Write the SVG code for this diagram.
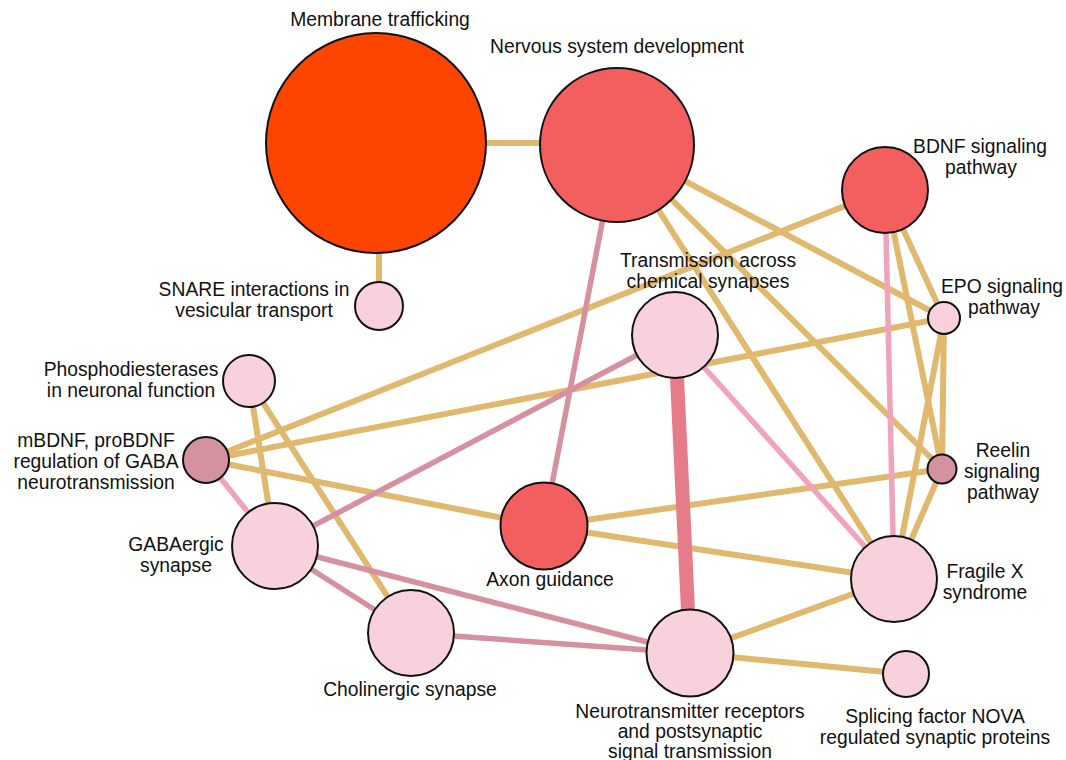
<svg xmlns="http://www.w3.org/2000/svg" width="1066" height="760" viewBox="0 0 1066 760">
<style>
.t{stroke:#E0B86E;stroke-width:6;fill:none}
.p{stroke:#F1A3BA;stroke-width:5.5;fill:none}
.m{stroke:#D5919F;stroke-width:5.5;fill:none}
.k{stroke:#E67C89;stroke-width:14;fill:none}
circle{stroke:#111;stroke-width:2}
.lp{fill:#F8D1DC}
.rd{fill:#F35E5E}
.mv{fill:#D4919F}
.or{fill:#FE4401}
text{font-family:"Liberation Sans",Arial,sans-serif;font-size:19.3px;fill:#111}
.c{text-anchor:middle}
</style>
<rect width="1066" height="760" fill="#fff"/>
<g id="connectors">
<line class="t" x1="376" y1="143" x2="617" y2="143"/>
<line class="t" x1="379" y1="143" x2="379" y2="306"/>
<line class="t" x1="617" y1="145" x2="944" y2="318"/>
<line class="t" x1="617" y1="145" x2="942" y2="469"/>
<line class="t" x1="617" y1="145" x2="894" y2="579"/>
<line class="t" x1="885" y1="190" x2="206" y2="460"/>
<line class="t" x1="885" y1="190" x2="944" y2="318"/>
<line class="t" x1="885" y1="190" x2="942" y2="469"/>
<line class="t" x1="944" y1="318" x2="206" y2="460"/>
<line class="t" x1="944" y1="318" x2="942" y2="469"/>
<line class="t" x1="944" y1="318" x2="894" y2="579"/>
<line class="t" x1="942" y1="469" x2="894" y2="579"/>
<line class="t" x1="942" y1="469" x2="544" y2="526"/>
<line class="t" x1="544" y1="526" x2="894" y2="579"/>
<line class="t" x1="206" y1="460" x2="544" y2="526"/>
<line class="t" x1="249" y1="381" x2="275" y2="546"/>
<line class="t" x1="249" y1="381" x2="411" y2="633"/>
<line class="t" x1="690" y1="653" x2="894" y2="579"/>
<line class="t" x1="690" y1="653" x2="906" y2="674"/>
<line class="p" x1="885" y1="190" x2="894" y2="579"/>
<line class="p" x1="206" y1="460" x2="275" y2="546"/>
<line class="p" x1="675" y1="335" x2="894" y2="579"/>
<line class="m" x1="617" y1="145" x2="544" y2="526"/>
<line class="m" x1="275" y1="546" x2="675" y2="335"/>
<line class="m" x1="275" y1="546" x2="690" y2="653"/>
<line class="m" x1="275" y1="546" x2="411" y2="633"/>
<line class="m" x1="411" y1="633" x2="690" y2="653"/>
<line class="k" x1="675" y1="335" x2="690" y2="653"/>
</g>
<g id="n-membrane"><circle class="or" cx="376" cy="143" r="110"/><text class="c" x="380" y="26">Membrane trafficking</text></g>
<g id="n-nervous"><circle class="rd" cx="617" cy="145" r="77"/><text class="c" x="617" y="53">Nervous system development</text></g>
<g id="n-snare"><circle class="lp" cx="379" cy="306" r="24"/><text class="c" x="254" y="296">SNARE interactions in</text><text class="c" x="254" y="317">vesicular transport</text></g>
<g id="n-bdnf"><circle class="rd" cx="885" cy="190" r="43"/><text class="c" x="980" y="153">BDNF signaling</text><text class="c" x="981" y="174">pathway</text></g>
<g id="n-epo"><circle class="lp" cx="944" cy="318" r="16"/><text class="c" x="1002" y="293">EPO signaling</text><text class="c" x="1004" y="314">pathway</text></g>
<g id="n-reelin"><circle class="mv" cx="942" cy="469" r="14.5"/><text class="c" x="1003" y="457">Reelin</text><text class="c" x="1002" y="478">signaling</text><text class="c" x="1003" y="499">pathway</text></g>
<g id="n-fragilex"><circle class="lp" cx="894" cy="579" r="43"/><text class="c" x="985" y="578">Fragile X</text><text class="c" x="985" y="599">syndrome</text></g>
<g id="n-nova"><circle class="lp" cx="906" cy="674" r="23"/><text class="c" x="935" y="723">Splicing factor NOVA</text><text class="c" x="935" y="744">regulated synaptic proteins</text></g>
<g id="n-neuro"><circle class="lp" cx="690" cy="653" r="43.5"/><text class="c" x="690" y="718">Neurotransmitter receptors</text><text class="c" x="690" y="738">and postsynaptic</text><text class="c" x="690" y="758">signal transmission</text></g>
<g id="n-transmission"><circle class="lp" cx="675" cy="335" r="43"/><text class="c" x="708" y="267">Transmission across</text><text class="c" x="708" y="288">chemical synapses</text></g>
<g id="n-axon"><circle class="rd" cx="544" cy="526" r="43.5"/><text class="c" x="550" y="586">Axon guidance</text></g>
<g id="n-cholinergic"><circle class="lp" cx="411" cy="633" r="43"/><text class="c" x="410" y="696">Cholinergic synapse</text></g>
<g id="n-gaba"><circle class="lp" cx="275" cy="546" r="43"/><text class="c" x="176" y="551">GABAergic</text><text class="c" x="176" y="572">synapse</text></g>
<g id="n-mbdnf"><circle class="mv" cx="206" cy="460" r="23"/><text class="c" x="96" y="447">mBDNF, proBDNF</text><text class="c" x="96" y="468">regulation of GABA</text><text class="c" x="96" y="489">neurotransmission</text></g>
<g id="n-phospho"><circle class="lp" cx="249" cy="381" r="26"/><text class="c" x="131" y="376">Phosphodiesterases</text><text class="c" x="131" y="397">in neuronal function</text></g>
</svg>
